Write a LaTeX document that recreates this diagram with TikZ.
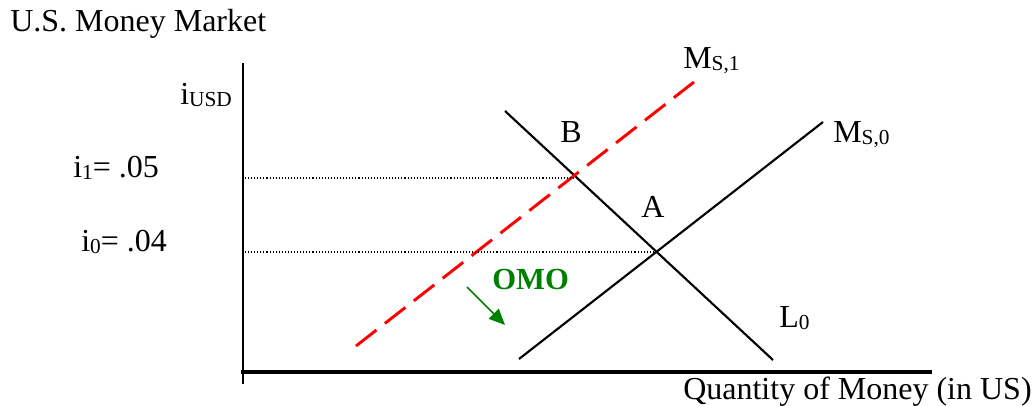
\documentclass[tikz,border=0pt]{standalone}
\usepackage{fontspec}
\setmainfont{Liberation Serif}
\usetikzlibrary{arrows.meta}
\definecolor{omogreen}{RGB}{0,128,0}
\definecolor{msred}{RGB}{255,0,0}
\newcommand\sbx[1]{\raisebox{-1.5pt}{\fontsize{16}{18}\selectfont #1}}
\begin{document}
\begin{tikzpicture}[x=0.75pt,y=-0.75pt,
  lbl/.style={inner sep=0pt,anchor=base west,font=\fontsize{24}{28}\selectfont},
  curve/.style={line width=1.6pt,black},
  axisline/.style={line width=1.8pt,black},
  guide/.style={line width=0.8pt,dash pattern=on 0.8pt off 1.5pt},
  shifted/.style={line width=2.2pt,msred,dash pattern=on 19.5pt off 8pt},
  omoarrow/.style={omogreen,line width=1.2pt,-{Triangle[length=12pt,width=10.5pt]}}]
\useasboundingbox (0,0) rectangle (1033,406);
% axes
\coordinate (ytop) at (243,63);
\coordinate (ybot) at (243,384);
\coordinate (xleft) at (241,372);
\coordinate (xright) at (932,372);
\draw[line width=1.4pt] (ytop) -- (ybot);
\draw[axisline,line width=2.4pt] (xleft) -- (xright);
% curves
\coordinate (L0a) at (505,111);
\coordinate (L0b) at (773,360);
\coordinate (M0a) at (519,359);
\coordinate (M0b) at (823,122);
\coordinate (M1a) at (356,346);
\coordinate (M1b) at (694,82);
\draw[curve] (L0a) -- (L0b);
\draw[curve] (M0a) -- (M0b);
\draw[shifted] (M1a) -- (M1b);
% equilibria
\coordinate (A) at (656,252);
\coordinate (B) at (575,178);
\coordinate (yA) at (245,252);
\coordinate (yB) at (245,178);
\draw[guide] (yB) -- (B);
\draw[guide] (yA) -- (A);
% labels
\node[lbl] (title) at (10,32) {U.S. Money Market};
\node[lbl] (iusd) at (180,105) {i\sbx{USD}};
\node[lbl] (i1) at (73,178) {i\sbx{1}= .05};
\node[lbl] (i0) at (81,252) {i\sbx{0}= .04};
\node[lbl] (Blbl) at (560,143) {B};
\node[lbl] (Albl) at (641,218) {A};
\node[lbl] (ms1) at (683,69) {M\sbx{S,1}};
\node[lbl] (ms0) at (833,143) {M\sbx{S,0}};
\node[lbl] (l0) at (779,328) {L\sbx{0}};
\node[lbl] (qty) at (683,399) {Quantity of Money (in US)};
\node[lbl,font=\fontsize{23}{28}\selectfont\bfseries,text=omogreen] (omo) at (492,290) {OMO};
\coordinate (arrS) at (467,287);
\coordinate (arrE) at (505,325);
\draw[omoarrow] (arrS) -- (arrE);
\end{tikzpicture}
\end{document}
